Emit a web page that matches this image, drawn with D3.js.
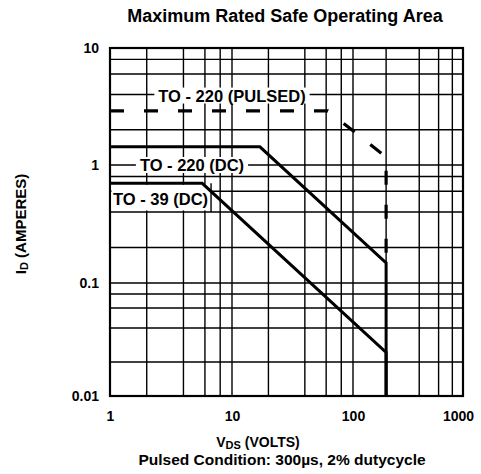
<!DOCTYPE html>
<html><head><meta charset="utf-8">
<script src="https://cdn.jsdelivr.net/npm/d3@7"></script>
<style>body{margin:0;background:#fff}</style></head>
<body>
<svg id="c" width="481" height="474"></svg>
<script>
// ---- data ----
const xTickValues = [1, 10, 100, 1000];
const xTickLabels = ["1", "10", "100", "1000"];
const yTickValues = [0.01, 0.1, 1, 10];
const yTickLabels = ["0.01", "0.1", "1", "10"];
const xGrid = [1, 2, 4, 6, 8, 10, 20, 40, 60, 80, 100, 200, 400, 600, 800, 1000];
const yGrid = [0.01, 0.02, 0.04, 0.06, 0.08, 0.1, 0.2, 0.4, 0.6, 0.8, 1, 2, 4, 6, 8, 10];
const pulsedV = [1, 62, 200, 200];
const pulsedI = [2.9, 2.9, 1.17, 0.15];
const to220V = [1, 17, 200, 200];
const to220I = [1.43, 1.43, 0.148, 0.01];
const to39V = [1, 5.7, 200, 200];
const to39I = [0.70, 0.70, 0.0243, 0.01];
const seriesNames = ["TO - 220 (PULSED)", "TO - 220 (DC)", "TO - 39 (DC)"];
const titleText = "Maximum Rated Safe Operating Area";
const noteText = "Pulsed Condition: 300\u00b5s, 2% dutycycle";

// ---- layout ----
const svg = d3.select("#c");
const FONT = "'Liberation Sans', Arial, Helvetica, sans-serif";
const L = 110, R = 463, T = 48, B = 396;
const x = d3.scaleLog().domain([1, 10, 100, 1000]).range([L, 232, 353, R]);
const y = d3.scaleLog().domain([0.01, 0.1, 1, 10]).range([B, 283, 165, T]);

svg.append("rect").attr("width", 481).attr("height", 474).attr("fill", "#fff");

// grid
const g = svg.append("g");
g.selectAll(".vg").data(xGrid).join("line")
  .attr("x1", d => x(d)).attr("x2", d => x(d)).attr("y1", T).attr("y2", B)
  .attr("stroke", "#000").attr("stroke-width", 1.4);
g.selectAll(".hg").data(yGrid).join("line")
  .attr("y1", d => y(d)).attr("y2", d => y(d)).attr("x1", L).attr("x2", R)
  .attr("stroke", "#000").attr("stroke-width", 1.4);
svg.append("rect").attr("x", L).attr("y", T).attr("width", R - L).attr("height", B - T)
  .attr("fill", "none").attr("stroke", "#000").attr("stroke-width", 2.2);

// series labels with white boxes (drawn under the curves)
const labelLayer = svg.append("g");
function boxLabel(txt, cx, cy, anchor, pad) {
  const t = labelLayer.append("text").attr("x", cx).attr("y", cy).attr("text-anchor", anchor)
    .attr("dominant-baseline", "central").attr("font-family", FONT).attr("font-weight", "bold")
    .attr("font-size", 16.5).text(txt);
  const bb = t.node().getBBox();
  labelLayer.insert("rect", () => t.node()).attr("x", bb.x - pad).attr("y", bb.y + 1)
    .attr("width", bb.width + 2 * pad).attr("height", bb.height - 2).attr("fill", "#fff");
  return bb;
}
boxLabel(seriesNames[0], x(10), y(4) + 1, "middle", 4);
boxLabel(seriesNames[1], x(4.7), y(1), "middle", 4);
{
  const t = labelLayer.append("text").attr("x", L + 3).attr("y", (y(0.7) + y(0.4)) / 2 + 1)
    .attr("dominant-baseline", "central").attr("font-family", FONT).attr("font-weight", "bold")
    .attr("font-size", 16.5).text(seriesNames[2]);
  const bb = t.node().getBBox();
  labelLayer.insert("rect", () => t.node()).attr("x", L + 1.5).attr("y", y(0.7) + 1.5)
    .attr("width", bb.x + bb.width + 2 - L).attr("height", y(0.4) - y(0.7) - 3).attr("fill", "#fff");
  labelLayer.append("line").attr("x1", bb.x + bb.width + 3).attr("x2", bb.x + bb.width + 3)
    .attr("y1", y(0.7)).attr("y2", y(0.4)).attr("stroke", "#000").attr("stroke-width", 1.4);
}

// curves
const line = d3.line().x(d => x(d[0])).y(d => y(d[1]));
const zip = (a, b) => a.map((v, i) => [v, b[i]]);
svg.append("path").attr("d", line(zip(to220V, to220I))).attr("fill", "none")
  .attr("stroke", "#000").attr("stroke-width", 3);
svg.append("path").attr("d", line(zip(to39V, to39I))).attr("fill", "none")
  .attr("stroke", "#000").attr("stroke-width", 3);
svg.append("path").attr("d", line(zip(pulsedV, pulsedI))).attr("fill", "none")
  .attr("stroke", "#000").attr("stroke-width", 3.2).attr("stroke-dasharray", "14,20");

// axes
const xAxis = d3.axisBottom(x).tickValues(xTickValues).tickFormat((d, i) => xTickLabels[i]).tickSize(0).tickPadding(15);
const xa = svg.append("g").attr("transform", `translate(0,${B})`).call(xAxis);
xa.select(".domain").remove();
xa.selectAll("text").attr("font-family", FONT).attr("font-weight", "bold").attr("font-size", 14).attr("fill", "#000");
xa.selectAll(".tick").filter(d => d === 1000).select("text").attr("dx", -5);

const yAxis = d3.axisLeft(y).tickValues(yTickValues).tickFormat((d, i) => yTickLabels[i]).tickSize(0).tickPadding(11);
const ya = svg.append("g").attr("transform", `translate(${L},0)`).call(yAxis);
ya.select(".domain").remove();
ya.selectAll("text").attr("font-family", FONT).attr("font-weight", "bold").attr("font-size", 14).attr("fill", "#000");

// title
svg.append("text").attr("x", 285).attr("y", 22).attr("text-anchor", "middle")
  .attr("font-family", FONT).attr("font-weight", "bold").attr("font-size", 18).text(titleText);

// x axis title with subscript
const xt = svg.append("text").attr("x", 258).attr("y", 447).attr("text-anchor", "middle")
  .attr("font-family", FONT).attr("font-weight", "bold").attr("font-size", 14);
xt.append("tspan").text("V");
xt.append("tspan").attr("font-size", 11).attr("dy", 2).text("DS");
xt.append("tspan").attr("dy", -2).text(" (VOLTS)");

svg.append("text").attr("x", 282).attr("y", 465).attr("text-anchor", "middle")
  .attr("font-family", FONT).attr("font-weight", "bold").attr("font-size", 15.5).text(noteText);

// y axis title
const yt = svg.append("text").attr("transform", "translate(26,224) rotate(-90)").attr("text-anchor", "middle")
  .attr("font-family", FONT).attr("font-weight", "bold").attr("font-size", 15);
yt.append("tspan").text("I");
yt.append("tspan").attr("font-size", 11).attr("dy", 2).text("D");
yt.append("tspan").attr("dy", -2).text(" (AMPERES)");
</script>
</body></html>
